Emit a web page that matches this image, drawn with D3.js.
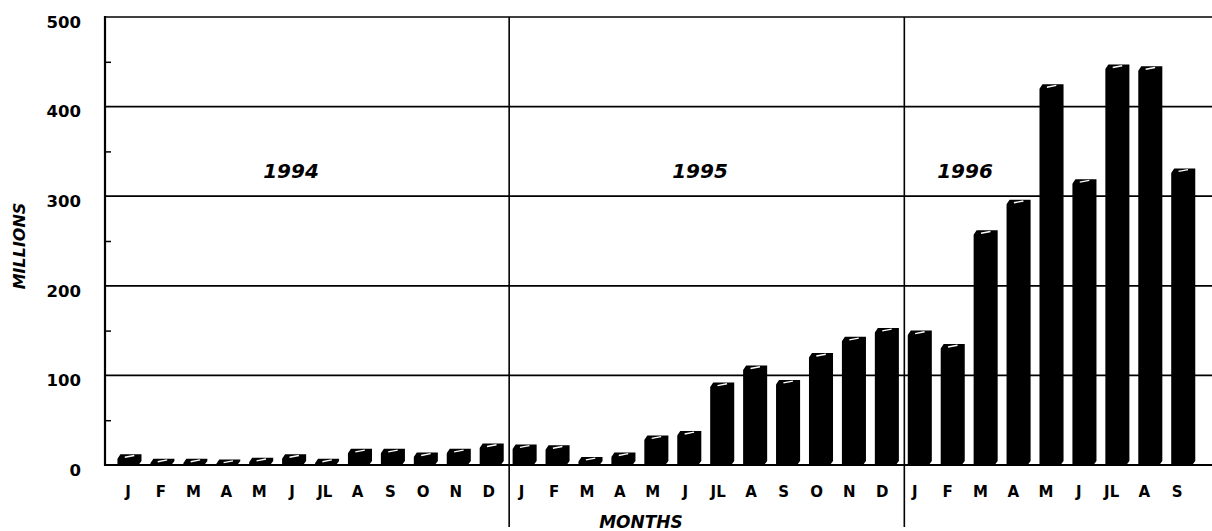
<!DOCTYPE html>
<html>
<head>
<meta charset="utf-8">
<script src="https://cdn.jsdelivr.net/npm/d3@7/dist/d3.min.js"></script>
<style>
  body { margin: 0; background: #fff; }
  text { font-family: "DejaVu Sans", sans-serif; }
</style>
</head>
<body>
<svg id="chart"></svg>
<script>
// values (millions per month)
const years = ["1994", "1995", "1996"];
const months1994 = ["J", "F", "M", "A", "M", "J", "JL", "A", "S", "O", "N", "D"];
const months1995 = ["J", "F", "M", "A", "M", "J", "JL", "A", "S", "O", "N", "D"];
const months1996 = ["J", "F", "M", "A", "M", "J", "JL", "A", "S"];
const values1994 = [12, 7, 7, 6, 8, 12, 7, 18, 18, 14, 18, 24];
const values1995 = [23, 22, 9, 14, 33, 38, 92, 111, 95, 125, 143, 153];
const values1996 = [150, 135, 262, 296, 425, 319, 447, 445, 331];
const yTicks = [0, 100, 200, 300, 400, 500];
const yMinorTicks = [50, 150, 250, 350, 450];

function drawChart(svg_id, width, height) {
    const svg = d3.select(svg_id)
        .attr("width", width)
        .attr("height", height)
        .attr("viewBox", [0, 0, width, height])
        .style("background-color", "#fff");

    // flatten into one row per month
    const data = [];
    [months1994, months1995, months1996].forEach((months, yi) => {
        const vals = [values1994, values1995, values1996][yi];
        months.forEach((m, i) => {
            data.push({ key: years[yi] + "-" + i, label: m, value: vals[i], year: years[yi] });
        });
    });
    const keys = data.map(d => d.key);
    const labelOf = {};
    data.forEach(d => labelOf[d.key] = d.label);

    const left = 105, right = width, top = 17, bottom = 465;

    // scales
    const y_scale = d3.scaleLinear().domain([0, 500]).range([bottom, top]);
    const x_scale = d3.scaleBand().domain(keys).range([112.5, 1199.2])
        .paddingInner(0.3).paddingOuter(0.15);
    const x_label = d3.scaleBand().domain(keys).range([111.6, 1193.6]);
    const step = x_scale.step();

    // gridlines + frame
    svg.append("g")
        .selectAll("line")
        .data(yTicks)
        .join("line")
        .attr("x1", left).attr("x2", right)
        .attr("y1", d => y_scale(d)).attr("y2", d => y_scale(d))
        .attr("stroke", "#000")
        .attr("stroke-width", d => d === 0 ? 2 : 1.7);

    svg.append("line")
        .attr("x1", left).attr("x2", left)
        .attr("y1", top - 1).attr("y2", bottom + 1)
        .attr("stroke", "#000").attr("stroke-width", 2.2);

    // minor ticks pointing into the plot
    const gMinor = svg.append("g")
        .attr("transform", `translate(${left},0)`)
        .call(d3.axisRight(y_scale).tickValues(yMinorTicks).tickSize(6).tickFormat(""));
    gMinor.select(".domain").remove();
    gMinor.selectAll("line").attr("stroke-width", 1.5);

    // y axis labels
    const gY = svg.append("g")
        .attr("transform", `translate(${left},0)`)
        .call(d3.axisLeft(y_scale).tickValues(yTicks).tickSize(0).tickPadding(24));
    gY.select(".domain").remove();
    gY.selectAll("text")
        .attr("transform", "translate(0,5)")
        .style("font-size", "16.5px")
        .style("font-weight", "bold")
        .attr("fill", "#000");

    // year dividers
    [12, 24].forEach(i => {
        const xd = x_scale(keys[i]) - step * x_scale.paddingInner() / 2 + 1.5;
        svg.append("line")
            .attr("x1", xd).attr("x2", xd)
            .attr("y1", top).attr("y2", 527)
            .attr("stroke", "#000").attr("stroke-width", 1.6);
    });

    // bars with a small 3D cap
    const bw = x_scale.bandwidth() - 2;
    const dx = 3, dy = 4;
    const bars = svg.append("g").selectAll("g").data(data).join("g");
    bars.append("path")
        .attr("d", d => {
            const bx = x_scale(d.key), t = y_scale(d.value), b = y_scale(0);
            return `M${bx},${b} L${bx},${t + dy + 1} Q${bx},${t + dy} ${bx + 1},${t + dy - 1}
                    L${bx + dx},${t} L${bx + bw + dx},${t} L${bx + bw + dx},${b - dy} L${bx + bw},${b} Z`;
        })
        .attr("fill", "#000");
    bars.append("line")
        .attr("x1", d => x_scale(d.key) + bw * 0.35)
        .attr("y1", d => y_scale(d.value) + dy * 0.75)
        .attr("x2", d => x_scale(d.key) + bw * 0.8)
        .attr("y2", d => y_scale(d.value) + dy * 0.3)
        .attr("stroke", "#fff").attr("stroke-width", 1.4);

    // month labels
    const gX = svg.append("g")
        .attr("transform", `translate(0,${bottom})`)
        .call(d3.axisBottom(x_label).tickSize(0).tickPadding(21).tickFormat(k => labelOf[k]));
    gX.select(".domain").remove();
    gX.selectAll("text")
        .style("font-size", "15px")
        .style("font-weight", "bold")
        .attr("fill", "#000");

    // year labels
    const yearX = [291, 700, 965];
    years.forEach((yr, i) => {
        svg.append("text")
            .attr("x", yearX[i]).attr("y", 178)
            .attr("text-anchor", "middle")
            .style("font-size", "20px")
            .style("font-style", "italic")
            .style("font-weight", "bold")
            .text(yr);
    });

    // axis titles
    svg.append("text")
        .attr("transform", "translate(25,246) rotate(-90)")
        .attr("text-anchor", "middle")
        .style("font-size", "16px")
        .style("font-style", "italic")
        .style("font-weight", "bold")
        .text("MILLIONS");

    svg.append("text")
        .attr("x", 641).attr("y", 528)
        .attr("text-anchor", "middle")
        .style("font-size", "17px")
        .style("font-style", "italic")
        .style("font-weight", "bold")
        .text("MONTHS");
}

drawChart("#chart", 1212, 531);
</script>
</body>
</html>
